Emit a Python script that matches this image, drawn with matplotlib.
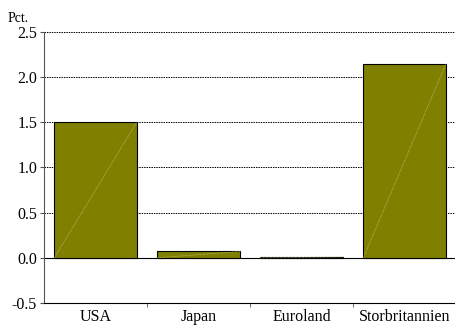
import matplotlib
matplotlib.use("Agg")
import matplotlib.pyplot as plt

categories = ["USA", "Japan", "Euroland", "Storbritannien"]
values = [1.50, 0.07, 0.01, 2.14]
yticks = [-0.5, 0.0, 0.5, 1.0, 1.5, 2.0, 2.5]

plt.rcParams["font.family"] = ["Liberation Serif", "DejaVu Serif"]

fig = plt.figure(figsize=(4.56, 3.26), dpi=100)
ax = fig.add_axes([0.0965, 0.0706, 0.9035, 0.8314])

x = list(range(len(categories)))
bars = ax.bar(x, values, width=0.8, color="#808000", edgecolor="black",
              linewidth=0.8, zorder=3)
for b in bars:
    x0, y0 = b.get_x(), b.get_y()
    ax.plot([x0, x0 + b.get_width()], [y0, y0 + b.get_height()],
            color="#c8c880", lw=0.5, ls=(0, (1, 1)), zorder=4)

ax.set_xlim(-0.5, len(categories) - 0.5)
ax.set_ylim(-0.5, 2.5)
ax.set_yticks(yticks)
ax.set_yticklabels([f"{v:.1f}" for v in yticks])
ax.set_xticks(x)
ax.set_xticklabels(categories)
ax.set_xticks([i + 0.5 for i in x[:-1]], minor=True)
ax.tick_params(axis="x", which="major", length=0, pad=4, labelsize=11.5)
ax.tick_params(axis="x", which="minor", length=3, direction="out", color="#555555")
ax.tick_params(axis="y", length=3, direction="out", pad=2, labelsize=11.5, color="#555555")

ax.yaxis.grid(True, color="black", linestyle=(0, (1.5, 1)), linewidth=0.7, zorder=0)
ax.axhline(0, color="black", lw=0.8, zorder=2)
for s in ("top", "right"):
    ax.spines[s].set_visible(False)
ax.spines["left"].set_color("#555555")
ax.spines["bottom"].set_color("black")
ax.spines["bottom"].set_linestyle((0, (1.5, 1)))

fig.text(0.017, 0.933, "Pct.", fontsize=10)

fig.savefig("out.png", dpi=100)
